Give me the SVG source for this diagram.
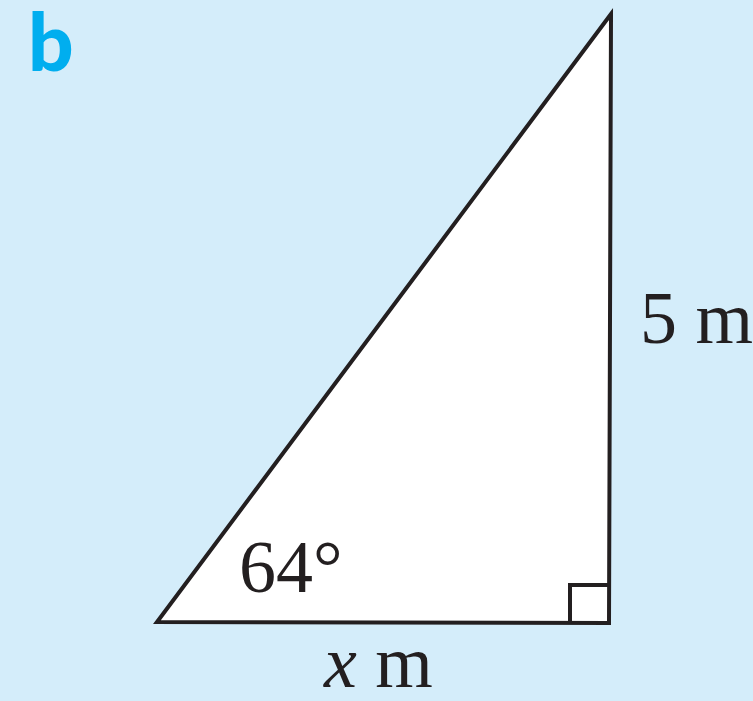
<svg xmlns="http://www.w3.org/2000/svg" width="753" height="701" viewBox="0 0 753 701">
<style>
.lbl{font-family:"Liberation Serif","Times New Roman",serif;font-size:74px;fill:#231f20}
.edge{fill:none;stroke:#231f20;stroke-width:4;stroke-linejoin:miter}
</style>
<rect x="0" y="0" width="753" height="701" fill="#D4EDFA"/>
<text x="28" y="71" font-family="Lato,'Liberation Sans',sans-serif" font-weight="900" font-size="80" fill="#00AEEF">b</text>
<g id="triangle">
<polygon points="611,14 157,622 609,623" fill="#ffffff" stroke="#231f20" stroke-width="4" stroke-linejoin="miter"/>
</g>
<g id="right-angle">
<polyline class="edge" points="570,623 570,585 609,585"/>
</g>
<g id="labels">
<text class="lbl" x="640" y="343">5 m</text>
<text class="lbl" x="239" y="592">64°</text>
<text class="lbl" x="324" y="687"><tspan font-style="italic">x</tspan> m</text>
</g>
</svg>
